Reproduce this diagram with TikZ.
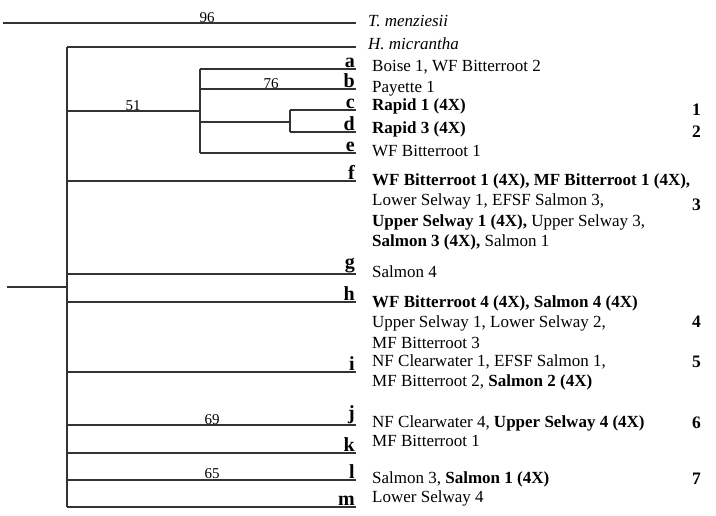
\documentclass[tikz,border=0pt]{standalone}
\usepackage{fontspec}
\setmainfont{Liberation Serif}
\begin{document}
\begin{tikzpicture}[x=1pt,y=-1pt,
  br/.style={line width=1.5pt, draw=black!80},
  leaf/.style={font=\fontsize{20}{20}\selectfont\bfseries, anchor=south east, inner sep=1pt},
  txt/.style={anchor=base west, inner sep=0pt, font=\fontsize{17}{20.5}\selectfont},
  grp/.style={anchor=base east, inner sep=0pt, font=\fontsize{17.5}{17.5}\selectfont\bfseries},
  boot/.style={anchor=base, inner sep=0pt, font=\fontsize{15}{15}\selectfont}]
\useasboundingbox[fill=white] (0,0) rectangle (716,515);
% tree coordinates
\coordinate (t0) at (3,23);  \coordinate (t1) at (356,23);
\coordinate (r0) at (7,287); \coordinate (r) at (67,287);
\coordinate (top) at (67,47); \coordinate (bot) at (67,507);
\coordinate (eH) at (356,47);
\coordinate (v1) at (200,111);
\coordinate (v1t) at (200,69); \coordinate (v1b) at (200,153);
\coordinate (v2) at (290,122);
\coordinate (v2t) at (290,110); \coordinate (v2b) at (290,132);
\coordinate (ea) at (356,69);  \coordinate (eb) at (356,89);
\coordinate (ec) at (356,110); \coordinate (ed) at (356,132);
\coordinate (ee) at (356,153); \coordinate (ef) at (356,181);
\coordinate (eg) at (356,274); \coordinate (eh) at (356,302);
\coordinate (ei) at (356,372); \coordinate (ej) at (356,425);
\coordinate (ek) at (356,453); \coordinate (el) at (356,480);
\coordinate (em) at (356,507);
% branches
\draw[br] (t0) -- (t1);
\draw[br] (r0) -- (r);
\draw[br] (top) -- (bot);
\draw[br] (top) -- (eH);
\draw[br] (top |- v1) -- (v1);
\draw[br] (v1t) -- (v1b);
\draw[br] (v1t) -- (ea);
\draw[br] (v1t |- eb) -- (eb);
\draw[br] (v1t |- v2) -- (v2);
\draw[br] (v2t) -- (v2b);
\draw[br] (v2t) -- (ec);
\draw[br] (v2b) -- (ed);
\draw[br] (v1b) -- (ee);
\foreach \e in {ef,eg,eh,ei,ej,ek,el,em}{\draw[br] (top |- \e) -- (\e);}
% bootstrap values
\node[boot] (b96) at (207,22) {96};
\node[boot] (b76) at (271,88) {76};
\node[boot] (b51) at (133,110) {51};
\node[boot] (b69) at (212,424) {69};
\node[boot] (b65) at (212,478) {65};
% leaf letters
\foreach \l in {a,b,c,d,e,f,g,h,i,j,k,l,m}{\node[leaf] (\l) at (e\l) {\l};}
% taxa text
\node[txt] (tT) at (368,26) {\itshape T. menziesii};
\node[txt] (tH) at (368,49) {\itshape H. micrantha};
\node[txt] (ta) at (372,71) {Boise 1, WF Bitterroot 2};
\node[txt] (tb) at (372,92) {Payette 1};
\node[txt] (tc) at (372,110) {\bfseries Rapid 1 (4X)};
\node[txt] (td) at (372,133) {\bfseries Rapid 3 (4X)};
\node[txt] (te) at (372,156) {WF Bitterroot 1};
\node[txt] (tf) at (372,185) {\begin{tabular}[t]{@{}l@{}}
\textbf{WF Bitterroot 1 (4X), MF Bitterroot 1 (4X),}\\
Lower Selway 1, EFSF Salmon 3,\\
\textbf{Upper Selway 1 (4X),} Upper Selway 3,\\
\textbf{Salmon 3 (4X),} Salmon 1\end{tabular}};
\node[txt] (tg) at (372,277) {Salmon 4};
\node[txt] (th) at (372,307) {\begin{tabular}[t]{@{}l@{}}
\textbf{WF Bitterroot 4 (4X), Salmon 4 (4X)}\\
Upper Selway 1, Lower Selway 2,\\
MF Bitterroot 3\end{tabular}};
\node[txt] (ti) at (372,366) {\begin{tabular}[t]{@{}l@{}}
NF Clearwater 1, EFSF Salmon 1,\\
MF Bitterroot 2, \textbf{Salmon 2 (4X)}\end{tabular}};
\node[txt] (tj) at (372,427) {NF Clearwater 4, \textbf{Upper Selway 4 (4X)}};
\node[txt] (tk) at (372,446) {MF Bitterroot 1};
\node[txt] (tl) at (372,483) {Salmon 3, \textbf{Salmon 1 (4X)}};
\node[txt] (tm) at (372,502) {Lower Selway 4};
% group numbers
\node[grp] (g1) at (701,115) {1};
\node[grp] (g2) at (701,137) {2};
\node[grp] (g3) at (701,210) {3};
\node[grp] (g4) at (701,327) {4};
\node[grp] (g5) at (701,367) {5};
\node[grp] (g6) at (701,428) {6};
\node[grp] (g7) at (701,484) {7};
\end{tikzpicture}
\end{document}
